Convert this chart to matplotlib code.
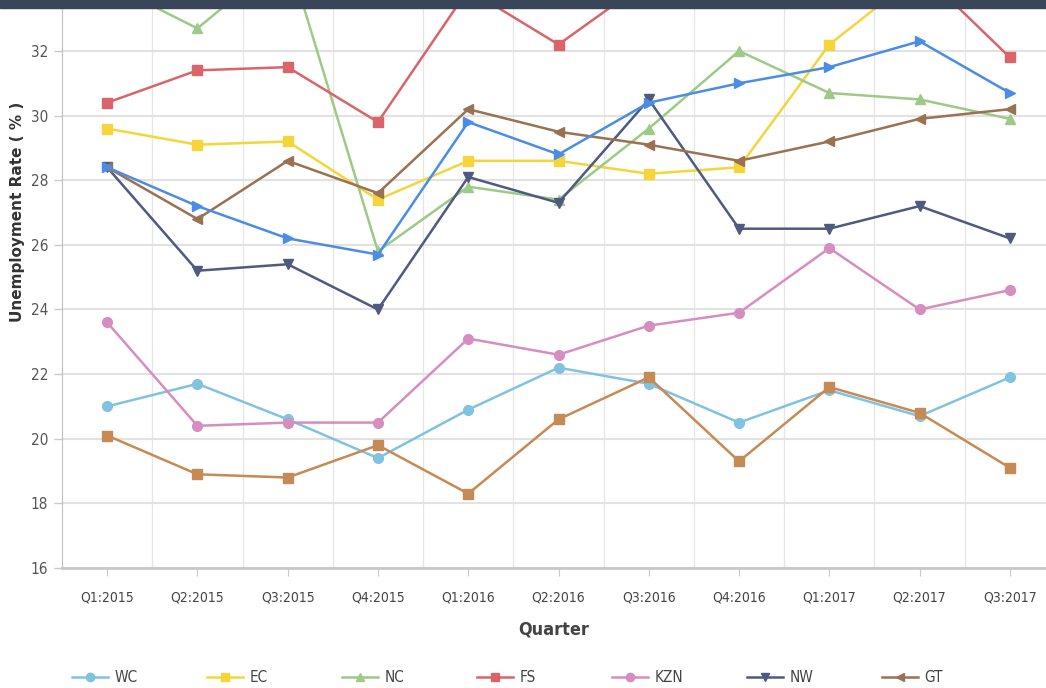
import matplotlib.pyplot as plt
from matplotlib.lines import Line2D
from matplotlib.patches import Rectangle

quarters = ['Q1:2015', 'Q2:2015', 'Q3:2015', 'Q4:2015', 'Q1:2016', 'Q2:2016',
            'Q3:2016', 'Q4:2016', 'Q1:2017', 'Q2:2017', 'Q3:2017']

wc = [21.0, 21.7, 20.6, 19.4, 20.9, 22.2, 21.7, 20.5, 21.5, 20.7, 21.9]
ec = [29.6, 29.1, 29.2, 27.4, 28.6, 28.6, 28.2, 28.4, 32.2, 34.4, 35.0]
nc = [34.1, 32.7, 35.0, 25.8, 27.8, 27.4, 29.6, 32.0, 30.7, 30.5, 29.9]
fs = [30.4, 31.4, 31.5, 29.8, 33.9, 32.2, 34.2, 34.6, 35.2, 34.5, 31.8]
kzn = [23.6, 20.4, 20.5, 20.5, 23.1, 22.6, 23.5, 23.9, 25.9, 24.0, 24.6]
nw = [28.4, 25.2, 25.4, 24.0, 28.1, 27.3, 30.5, 26.5, 26.5, 27.2, 26.2]
gt = [28.4, 26.8, 28.6, 27.6, 30.2, 29.5, 29.1, 28.6, 29.2, 29.9, 30.2]
mp = [28.4, 27.2, 26.2, 25.7, 29.8, 28.8, 30.4, 31.0, 31.5, 32.3, 30.7]
lp = [20.1, 18.9, 18.8, 19.8, 18.3, 20.6, 21.9, 19.3, 21.6, 20.8, 19.1]

series = [
    ('WC', wc, '#80c3e0', 'o'),
    ('EC', ec, '#f5d53a', 's'),
    ('NC', nc, '#9dca86', '^'),
    ('FS', fs, '#d9656b', 's'),
    ('KZN', kzn, '#d68dc0', 'o'),
    ('NW', nw, '#4e5a80', 'v'),
    ('GT', gt, '#9a7252', '<'),
    ('MP', mp, '#4a8ce6', '>'),
    ('LP', lp, '#c68a54', 's'),
]

plt.rcParams['font.family'] = ['DejaVu Sans']
plt.rcParams['font.stretch'] = 'condensed'

fig = plt.figure(figsize=(10.46, 6.88), dpi=100)
ax = fig.add_axes([62 / 1046, 1 - 568 / 688, 1 - 62 / 1046, 560 / 688])

x = list(range(len(quarters)))
for name, vals, col, mk in series:
    ax.plot(x, vals, color=col, marker=mk, markersize=7, linewidth=1.8,
            label=name)

ax.set_xlim(-0.5, 10.4)
ax.set_ylim(16, 33.33)
ax.set_yticks(range(16, 33, 2))
ax.set_xticks(x)
ax.set_xticklabels(quarters, fontsize=10, color='#444444')
ax.tick_params(axis='y', labelsize=11, colors='#555555', length=6, width=1,
               pad=4)
ax.tick_params(axis='x', length=6, color='#c8c8c8', pad=10)
ax.tick_params(axis='y', color='#c8c8c8')

ax.grid(axis='y', color='#e2e2e2', linewidth=1.5)
for b in range(len(quarters)):
    ax.axvline(b + 0.5, color='#e6e6e6', linewidth=0.9, zorder=0)
ax.set_axisbelow(True)

for s in ['top', 'right']:
    ax.spines[s].set_visible(False)
ax.spines['left'].set_color('#c0c0c0')
ax.spines['bottom'].set_color('#c8c8c8')
ax.spines['bottom'].set_linewidth(2)

ax.set_xlabel('Quarter', fontsize=13, fontweight='bold', color='#444444',
              labelpad=12)
fig.text(18 / 1046, 1 - 212 / 688, 'Unemployment Rate ( % )', rotation=90,
         ha='center', va='center', fontsize=11, fontweight='bold',
         color='#333333', fontstretch='normal')

# dark band at the top
fig.patches.append(Rectangle((0, 1 - 8 / 688), 1, 8 / 688,
                             transform=fig.transFigure, color='#39465a'))

# legend, fixed slots like the original
for i, (name, vals, col, mk) in enumerate(series[:7]):
    h = Line2D([], [], color=col, marker=mk, markersize=6, linewidth=1.8)
    fig.legend([h], [name], loc='center left', frameon=False,
               bbox_to_anchor=((58 + 135 * i) / 1046, 1 - 678 / 688),
               handlelength=2.4, handletextpad=0.4, fontsize=11,
               labelcolor='#444444')

fig.savefig('out.png', dpi=100)
